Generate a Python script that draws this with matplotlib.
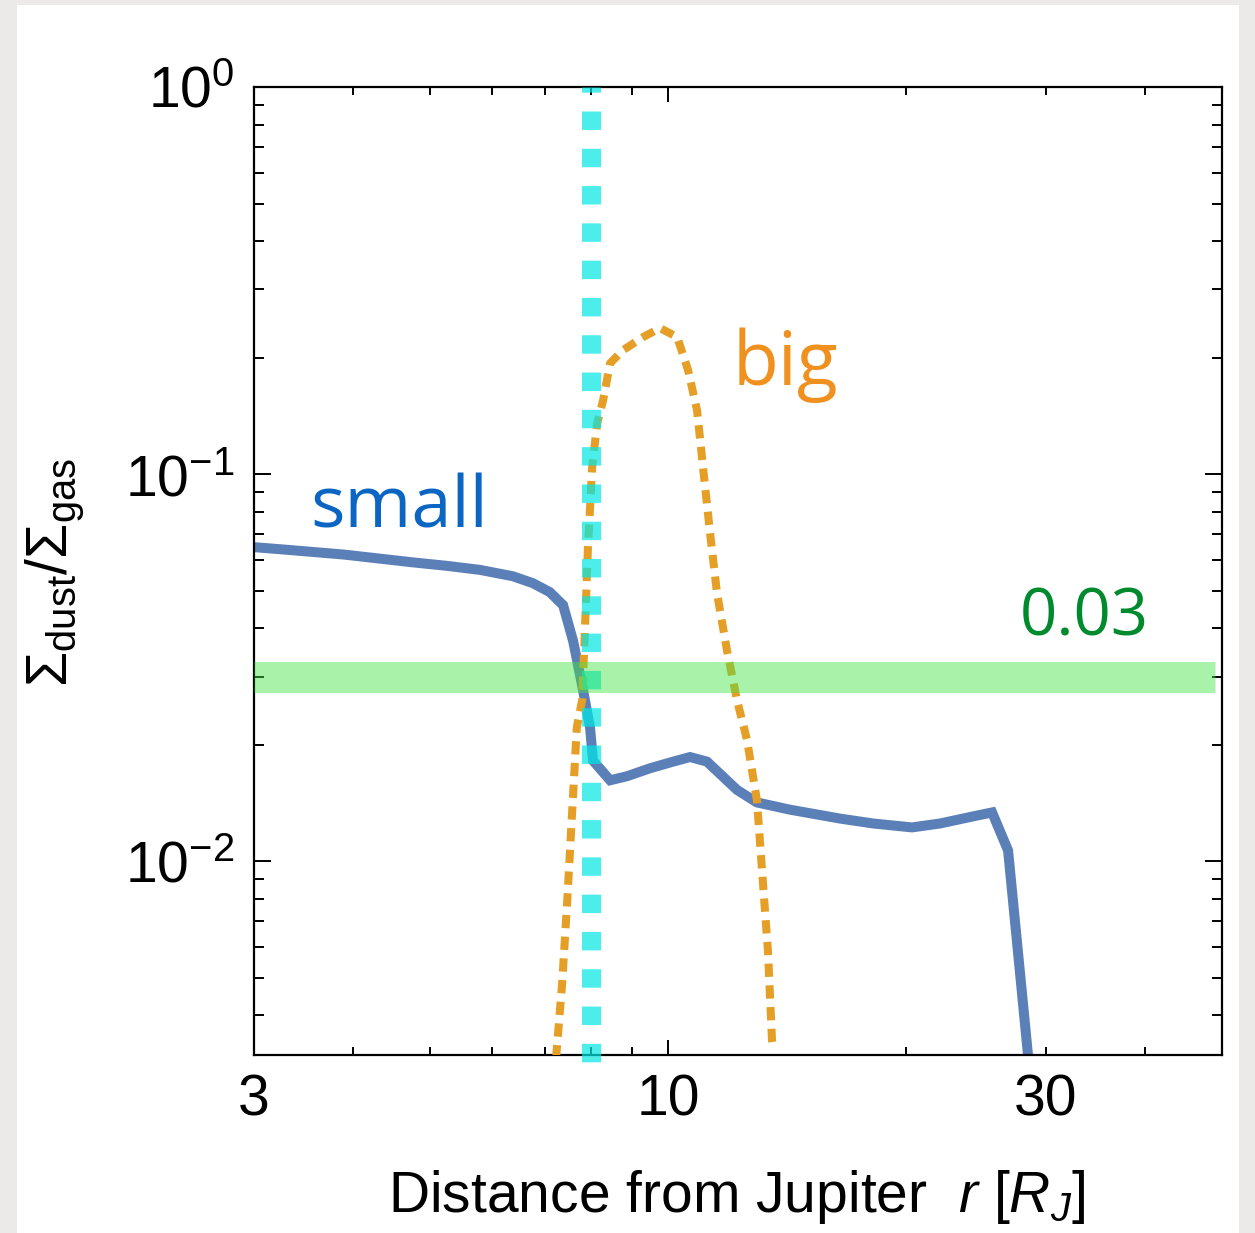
import matplotlib
matplotlib.use('Agg')
import matplotlib.pyplot as plt
from matplotlib.ticker import FixedLocator, FuncFormatter, LogLocator, NullFormatter, LogFormatterMathtext
from matplotlib.patches import Rectangle

# ---------------- data ----------------
small_r = [3.0, 3.24, 3.9, 4.76, 5.25, 5.79, 6.37, 6.75, 7.09, 7.37, 7.59, 7.81,
           7.97, 8.04, 8.45, 8.88, 9.49, 10.15, 10.66, 11.20, 12.22, 12.95,
           14.26, 16.49, 18.15, 20.33, 22.06, 24.28, 25.66, 26.88, 28.6]
small_ratio = [0.0648, 0.0640, 0.0620, 0.0592, 0.0580, 0.0566, 0.0545, 0.0523,
               0.0496, 0.0459, 0.037, 0.0277, 0.0222, 0.0182, 0.0162, 0.0166,
               0.0174, 0.0181, 0.0186, 0.0181, 0.0153, 0.0142, 0.0136, 0.0129,
               0.01253, 0.01224, 0.01253, 0.01307, 0.01338, 0.01067, 0.0029]

big_r = [7.22, 7.35, 7.46, 7.56, 7.67, 7.79, 7.85, 7.92, 8.02, 8.14, 8.28, 8.45,
         8.77, 9.30, 9.77, 10.27, 10.60, 10.88, 11.07, 11.30, 11.53, 11.87,
         12.22, 12.58, 12.95, 13.18, 13.37, 13.53, 13.57]
big_ratio = [0.0031, 0.00484, 0.00793, 0.0130, 0.0222, 0.0261, 0.0388, 0.0637,
             0.1043, 0.1355, 0.1553, 0.1935, 0.209, 0.226, 0.2384, 0.226, 0.1857,
             0.1463, 0.1043, 0.0704, 0.0493, 0.0351, 0.0261, 0.0206, 0.01438,
             0.00877, 0.00589, 0.00345, 0.0033]

snow_line_r = 8.0
snow_line_ratio = [0.003, 1.0]
reference_ratio = 0.03
reference_r = [3.0, 49.1]

x_major_ticks = [10]
x_minor_ticks = [3, 4, 5, 6, 7, 8, 9, 20, 30, 40]
x_tick_labels = {3: '3', 10: '10', 30: '30'}

# ---------------- style ----------------
plt.rcParams['font.family'] = ['Liberation Sans', 'DejaVu Sans']
plt.rcParams['mathtext.fontset'] = 'custom'
plt.rcParams['mathtext.rm'] = 'Liberation Sans'
plt.rcParams['mathtext.it'] = 'Liberation Sans:italic'
plt.rcParams['mathtext.bf'] = 'Liberation Sans:bold'
plt.rcParams['mathtext.sf'] = 'Liberation Sans'

W, H = 1255, 1233
fig = plt.figure(figsize=(W / 100, H / 100), dpi=100)
fig.patch.set_facecolor('#ECEAE8')
fig.patches.append(Rectangle((17 / W, 0), (1239 - 17) / W, 1 - 5 / H,
                             transform=fig.transFigure, facecolor='white',
                             edgecolor='none', zorder=-10))

ax = fig.add_axes([254 / W, 1 - 1055 / H, (1222 - 254) / W, (1055 - 87) / H])
ax.set_zorder(5)
ax.patch.set_alpha(0)
ax.set_xscale('log')
ax.set_yscale('log')
ax.set_xlim(3, 50.07)
ax.set_ylim(10 ** -2.5, 1)

# small grains
ax.plot(small_r, small_ratio, color='#5B80B8', lw=7.2, solid_joinstyle='miter',
        zorder=2)
# big grains
ax.plot(big_r, big_ratio, color='#E59F27', lw=5.8, linestyle=(0, (1.65, 1.05)),
        dash_capstyle='butt', zorder=3)
# vertical cyan dotted line
ax.plot([snow_line_r, snow_line_r], snow_line_ratio[::-1], color='#00E8E5',
        alpha=0.7, lw=13.7, linestyle=(0.7, (0.97, 0.99)), dash_capstyle='butt',
        clip_on=False, zorder=4)
# green reference band
ax.plot(reference_r, [reference_ratio, reference_ratio], color='#44E344',
        alpha=0.46, lw=22.3, solid_capstyle='butt', zorder=5)

# ticks
ax.xaxis.set_major_locator(FixedLocator(x_major_ticks))
ax.xaxis.set_minor_locator(FixedLocator(x_minor_ticks))
fmt = FuncFormatter(lambda v, p: x_tick_labels.get(int(round(v)), '') if abs(v - round(v)) < 1e-6 else '')
ax.xaxis.set_major_formatter(fmt)
ax.xaxis.set_minor_formatter(fmt)
ax.yaxis.set_major_locator(LogLocator(base=10, numticks=10))
ax.yaxis.set_minor_locator(LogLocator(base=10, subs=range(2, 10), numticks=20))
ax.yaxis.set_major_formatter(LogFormatterMathtext())
ax.yaxis.set_minor_formatter(NullFormatter())

ax.tick_params(which='both', direction='in', top=True, right=True, width=1.4,
               labelsize=41, colors='black')
ax.tick_params(axis='x', which='major', length=11, pad=13)
ax.tick_params(axis='x', which='minor', length=6, pad=13)
ax.tick_params(axis='y', which='major', length=12, pad=14)
ax.tick_params(axis='y', which='minor', length=7)
for s in ax.spines.values():
    s.set_linewidth(1.6)

# axis labels
fig.text(55 / W, 1 - 572 / H, r'$\mathrm{Σ}_{\rm dust}/\mathrm{Σ}_{\rm gas}$',
         rotation=90, ha='center', va='center', fontsize=41)
fig.text(737 / W, 1 - 1212 / H, r'Distance from Jupiter  $r\ [R_J]$',
         ha='center', va='baseline', fontsize=41)

# annotations
fig.text(310 / W, 1 - 528 / H, 'small', color='#0A66C2', fontsize=52,
         family='Open Sans', va='baseline')
fig.text(733 / W, 1 - 385 / H, 'big', color='#F0901F', fontsize=54,
         family='Open Sans', va='baseline')
fig.text(1020 / W, 1 - 635 / H, '0.03', color='#008A2E', fontsize=47,
         family='Open Sans', va='baseline')

fig.savefig('out.png', dpi=100, facecolor=fig.get_facecolor())
